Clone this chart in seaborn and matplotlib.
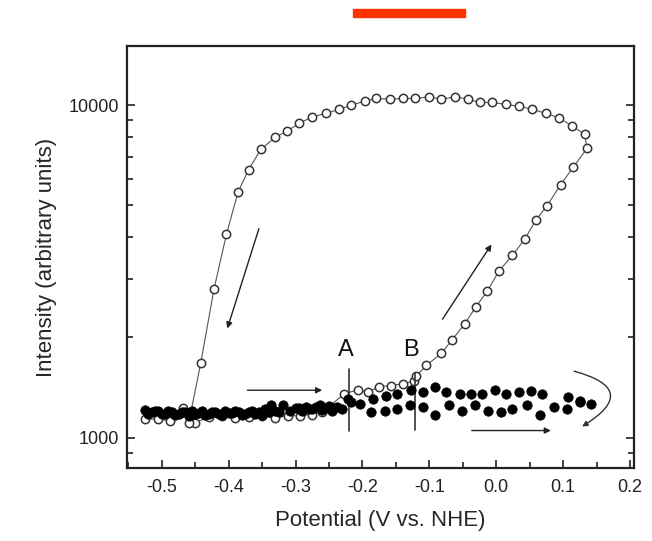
import matplotlib
matplotlib.use("Agg")
import matplotlib.pyplot as plt
import matplotlib.ticker as mticker
from matplotlib.patches import Rectangle
import seaborn as sns
import pandas as pd

# ---- open circles: full loop (bottom -> right side up -> top leftwards -> left side down)
open_x = [-0.525, -0.505, -0.487, -0.469, -0.45, -0.43, -0.41, -0.39, -0.37, -0.35,
          -0.33, -0.312, -0.294, -0.276, -0.26, -0.2275, -0.2066, -0.1916, -0.1752,
          -0.1577, -0.1393, -0.1233, -0.1203, -0.1043, -0.0819, -0.0665, -0.0471,
          -0.0306, -0.0132, 0.0042, 0.0242, 0.0426, 0.0590, 0.0759, 0.0964, 0.1148,
          0.1357, 0.1323, 0.1133, 0.0939, 0.0750, 0.0541, 0.0341, 0.0142, -0.0057,
          -0.0247, -0.0422, -0.0610, -0.0819, -0.1009, -0.1208, -0.1393, -0.1592,
          -0.1791, -0.1966, -0.2164, -0.2350, -0.2549, -0.2747, -0.2948, -0.3127,
          -0.3311, -0.3520, -0.3700, -0.3859, -0.4033, -0.4218, -0.4417, -0.4596]
open_y = [1140, 1135, 1124, 1226, 1110, 1150, 1160, 1145, 1150, 1158,
          1149, 1160, 1165, 1173, 1190, 1354, 1392, 1369, 1424,
          1434, 1451, 1478, 1527, 1648, 1795, 1960, 2200,
          2469, 2759, 3170, 3534, 3948, 4504, 4975, 5769, 6492,
          7406, 8180, 8643, 9156, 9441, 9705, 9931, 10047, 10187,
          10187, 10420, 10590, 10420, 10590, 10470, 10470, 10420,
          10470, 10280, 10000, 9705, 9441, 9225, 8810, 8349,
          7991, 7354, 6402, 5482, 4088, 2805, 1679, 1110]

# ---- filled circles (forward baseline, return baseline, upper and lower tracks)
filled_x = [-0.525, -0.515, -0.505, -0.495, -0.485, -0.475, -0.465, -0.455, -0.445,
            -0.435, -0.425, -0.415, -0.405, -0.395, -0.385, -0.375, -0.365, -0.355,
            -0.345, -0.336, -0.325, -0.319, -0.309, -0.295, -0.285, -0.275, -0.264,
            -0.255, -0.246, -0.238, -0.231, -0.2215, -0.2165, -0.204,
            -0.520, -0.510, -0.500, -0.490, -0.480, -0.470, -0.460, -0.450, -0.440,
            -0.430, -0.420, -0.410, -0.400, -0.390, -0.380, -0.370, -0.360, -0.350,
            -0.340, -0.330, -0.300, -0.290, -0.280, -0.270, -0.260, -0.250, -0.242,
            -0.184, -0.165, -0.148, -0.127, -0.109, -0.091, -0.0744, -0.0546, -0.0371,
            -0.0206, -0.0022, 0.0152, 0.0341, 0.0526, 0.0691, 0.1073, 0.1248, 0.1423,
            -0.1866, -0.1667, -0.1483, -0.1293, -0.1094, -0.0909, -0.0706, -0.0505,
            -0.0321, -0.0123, 0.0067, 0.0242, 0.0460, 0.0650, 0.0864, 0.1058, 0.1258]
filled_y = [1210, 1190, 1200, 1180, 1195, 1175, 1190, 1200, 1185,
            1170, 1195, 1180, 1200, 1185, 1190, 1175, 1205, 1190,
            1215, 1249, 1195, 1249, 1206, 1230, 1234, 1215, 1249,
            1225, 1200, 1235, 1220, 1310, 1283, 1263,
            1180, 1200, 1175, 1205, 1170, 1190, 1165, 1180, 1205,
            1175, 1190, 1170, 1185, 1200, 1170, 1195, 1180, 1170,
            1190, 1205, 1225, 1200, 1215, 1240, 1210, 1245, 1230,
            1308, 1338, 1354, 1392, 1369, 1418, 1369, 1354, 1354,
            1348, 1395, 1348, 1369, 1379, 1354, 1322, 1292, 1263,
            1192, 1198, 1220, 1257, 1234, 1173, 1249, 1206,
            1249, 1206, 1192, 1220, 1249, 1173, 1234, 1220, 1277]

x_ticks = [-0.5, -0.4, -0.3, -0.2, -0.1, 0.0, 0.1, 0.2]
x_ticklabels = ["-0.5", "-0.4", "-0.3", "-0.2", "-0.1", "0.0", "0.1", "0.2"]
y_ticks = [1000, 10000]
y_ticklabels = ["1000", "10000"]

sns.set_style("ticks")
plt.rcParams["font.family"] = ["Liberation Sans", "DejaVu Sans"]

fig = plt.figure(figsize=(6.52, 5.41), dpi=100)
ax = fig.add_axes([127 / 652, 1 - 468 / 541, (634 - 127) / 652, (468 - 46) / 541])

df_open = pd.DataFrame({"x": open_x, "y": open_y})
df_fill = pd.DataFrame({"x": filled_x, "y": filled_y})

sns.lineplot(data=df_open, x="x", y="y", sort=False, estimator=None, ax=ax,
             color="#555555", lw=0.8, marker="o", markersize=6,
             markerfacecolor="white", markeredgecolor="#333333", markeredgewidth=1.1)
sns.scatterplot(data=df_fill, x="x", y="y", ax=ax, color="black", s=46,
                edgecolor="black", linewidth=0.5, zorder=3)

ax.set_yscale("log")
ax.set_xlim(-0.552, 0.206)
ax.set_ylim(810, 15060)

ax.xaxis.set_major_locator(mticker.FixedLocator(x_ticks))
ax.xaxis.set_major_formatter(mticker.FixedFormatter(x_ticklabels))
ax.xaxis.set_minor_locator(mticker.MultipleLocator(0.05))
ax.yaxis.set_major_locator(mticker.FixedLocator(y_ticks))
ax.yaxis.set_major_formatter(mticker.FixedFormatter(y_ticklabels))
ax.yaxis.set_minor_locator(mticker.LogLocator(base=10, subs=range(2, 10)))
ax.yaxis.set_minor_formatter(mticker.NullFormatter())

ax.tick_params(axis="both", which="both", direction="in", colors="#222222",
               labelsize=13, width=1.2)
ax.tick_params(axis="y", which="both", right=True)
ax.tick_params(which="major", length=6)
ax.tick_params(which="minor", length=4)
ax.tick_params(axis="x", pad=8)
ax.tick_params(axis="y", pad=6)

for sp in ax.spines.values():
    sp.set_visible(True)
    sp.set_linewidth(1.6)
    sp.set_color("#222222")

ax.set_xlabel("Potential (V vs. NHE)", fontsize=16, labelpad=10)
ax.set_ylabel("Intensity (arbitrary units)", fontsize=16, labelpad=8)

# A / B markers
ax.plot([-0.220, -0.220], [1045, 1611], color="#333333", lw=1.2)
ax.plot([-0.1218, -0.1218], [1057, 1559], color="#333333", lw=1.2)
ax.text(-0.225, 1828, "A", fontsize=17, ha="center", va="center", color="#111111")
ax.text(-0.127, 1828, "B", fontsize=17, ha="center", va="center", color="#111111")

# Arrows
arrow_kw = dict(arrowstyle="-|>", color="#222222", lw=1.0, mutation_scale=9)
ax.annotate("", xy=(-0.256, 1388), xytext=(-0.376, 1388), arrowprops=arrow_kw)
ax.annotate("", xy=(0.0859, 1050), xytext=(-0.0407, 1050), arrowprops=arrow_kw)
ax.annotate("", xy=(-0.0048, 3872), xytext=(-0.0826, 2234), arrowprops=arrow_kw)
ax.annotate("", xy=(-0.4033, 2090), xytext=(-0.3535, 4330), arrowprops=arrow_kw)
ax.annotate("", xy=(0.1248, 1069), xytext=(0.1124, 1592),
            arrowprops=dict(arrowstyle="-|>", color="#333333", lw=1.0,
                            mutation_scale=8, connectionstyle="arc3,rad=-1.2"))

# red bar at top
fig.patches.append(Rectangle((353 / 652, 1 - 17 / 541), 112 / 652, 8 / 541,
                             transform=fig.transFigure, color="#ff3300", zorder=5))

fig.savefig("out.png", dpi=100)
